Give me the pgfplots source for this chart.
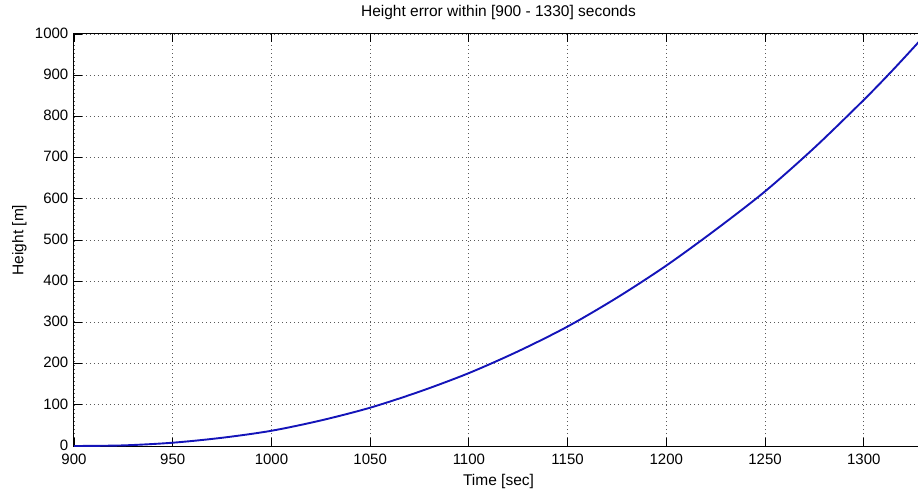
\documentclass[border=0pt]{standalone}
\usepackage{fontspec}
\setmainfont{Liberation Sans}
\usepackage{pgfplots}
\pgfplotsset{compat=1.18}
\definecolor{mlblue}{RGB}{20,20,185}
\definecolor{gridc}{RGB}{90,90,90}
\begin{document}
\begin{tikzpicture}
\begin{axis}[
  name=ax,
  scale only axis,
  width=849pt, height=412pt,
  xmin=900, xmax=1330, ymin=0, ymax=1000,
  xtick={900,950,...,1300},
  ytick={0,100,...,1000},
  /pgf/number format/assume math mode=true,
  /pgf/number format/1000 sep={},
  ticklabel style={font=\fontsize{15}{15}\selectfont, inner sep=0pt, text depth=0pt},
  xticklabel style={yshift=-8pt},
  yticklabel style={xshift=-5.5pt, yshift=1pt},
  tick align=inside,
  major tick length=8pt,
  tick style={black, line width=0.8pt},
  xtick pos=both, ytick pos=left,
  axis line style={black, line width=1pt},
  grid=major,
  major grid style={gridc, line width=0.8pt, dash pattern=on 0.8pt off 3.2pt},
  title={Height error within [900 - 1330] seconds},
  title style={font=\fontsize{15.5}{15.5}\selectfont, at={(axis description cs:0.5,1.0274)}, anchor=base},
  xlabel={Time [sec]},
  xlabel style={font=\fontsize{15.5}{15.5}\selectfont, at={(axis description cs:0.5,-0.0947)}, anchor=base},
  ylabel={Height [m]},
  ylabel style={font=\fontsize{15.5}{15.5}\selectfont, at={(axis description cs:-0.0597,0.5)}, anchor=base, rotate=0},
]
\addplot[mlblue, line width=1.9pt, smooth] coordinates {
(900,0) (925,1.5) (950,8) (975,20) (1000,37) (1025,62) (1050,93) (1075,132)
(1100,177) (1125,230) (1150,290) (1175,360) (1200,438) (1225,525) (1250,618)
(1275,724) (1300,840) (1315,914) (1330,992)
};
\end{axis}
\pgfresetboundingbox
\path (ax.south west) ++(-74pt,-47pt) rectangle ++(918pt,493pt);
\end{tikzpicture}
\end{document}
